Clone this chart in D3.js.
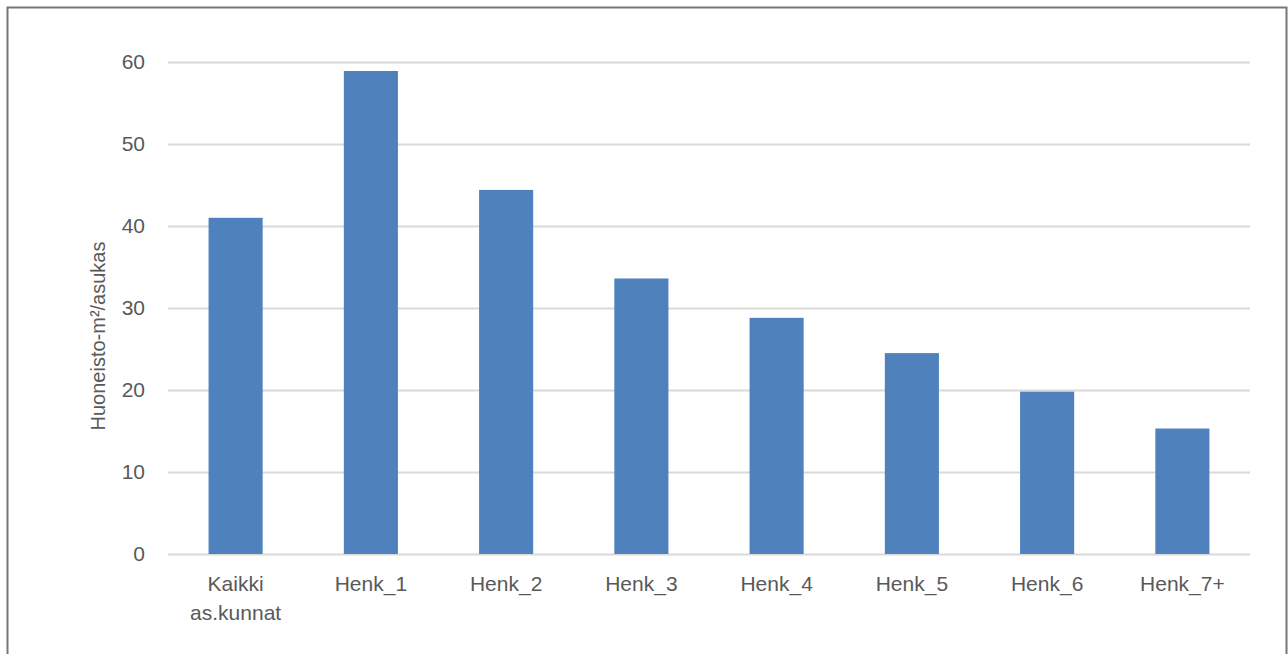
<!DOCTYPE html>
<html>
<head>
<meta charset="utf-8">
<script src="https://cdn.jsdelivr.net/npm/d3@7"></script>
<style>
  html, body { margin: 0; padding: 0; background: #fff; }
  svg { display: block; }
  text { font-family: "Liberation Sans", Arial, sans-serif; fill: #595959; }
</style>
</head>
<body>
<svg id="chart" width="1288" height="654"></svg>
<script>
// Living space per resident by household size
const categories = [["Kaikki", "as.kunnat"], ["Henk_1"], ["Henk_2"], ["Henk_3"], ["Henk_4"], ["Henk_5"], ["Henk_6"], ["Henk_7+"]];
const values = [41.0, 58.9, 44.4, 33.6, 28.8, 24.5, 19.8, 15.3];
const yTicks = [0, 10, 20, 30, 40, 50, 60];
const yTitle = "Huoneisto-m²/asukas";

const svg = d3.select("#chart");
const plot = { left: 168, right: 1250, top: 62, bottom: 554 };

// outer frame
svg.append("rect")
  .attr("x", 7.5).attr("y", 7.5)
  .attr("width", 1279).attr("height", 700)
  .attr("fill", "#fff")
  .attr("stroke", "#767676")
  .attr("stroke-width", 2);

const keys = categories.map(c => c.join(" "));
const x = d3.scaleBand().domain(keys).range([plot.left, plot.right]).paddingInner(0.6).paddingOuter(0.3);
const y = d3.scaleLinear().domain([0, 60]).range([plot.bottom, plot.top]);

// gridlines and value ticks
const yAxis = d3.axisLeft(y).tickValues(yTicks).tickSize(-(plot.right - plot.left)).tickPadding(23);
const gy = svg.append("g").attr("transform", `translate(${plot.left},0)`).call(yAxis);
gy.select(".domain").remove();
gy.selectAll(".tick line").attr("stroke", "#d9d9d9").attr("stroke-width", 2);
gy.selectAll(".tick text")
  .attr("font-size", 21)
  .attr("font-family", "Liberation Sans, Arial, sans-serif")
  .attr("fill", "#595959");

// bars
svg.append("g").selectAll("rect")
  .data(values)
  .join("rect")
  .attr("x", (d, i) => x(keys[i]))
  .attr("width", x.bandwidth())
  .attr("y", d => y(d))
  .attr("height", d => y(0) - y(d))
  .attr("fill", "#4f81bd");

// category labels
const xAxis = d3.axisBottom(x).tickSize(0).tickPadding(0).tickFormat(() => "");
const gx = svg.append("g").attr("transform", `translate(0,${plot.bottom})`).call(xAxis);
gx.select(".domain").remove();
gx.selectAll(".tick").each(function(k, i) {
  const t = d3.select(this).append("text")
    .attr("text-anchor", "middle")
    .attr("font-size", 21)
    .attr("fill", "#595959")
    .attr("y", 37);
  categories[i].forEach((line, j) => {
    t.append("tspan").attr("x", 0).attr("dy", j === 0 ? 0 : 29).text(line);
  });
});

// axis title
svg.append("text")
  .attr("transform", `translate(105,${(plot.top + plot.bottom) / 2 + 28}) rotate(-90)`)
  .attr("text-anchor", "middle")
  .attr("font-size", 20)
  .text(yTitle);
</script>
</body>
</html>
